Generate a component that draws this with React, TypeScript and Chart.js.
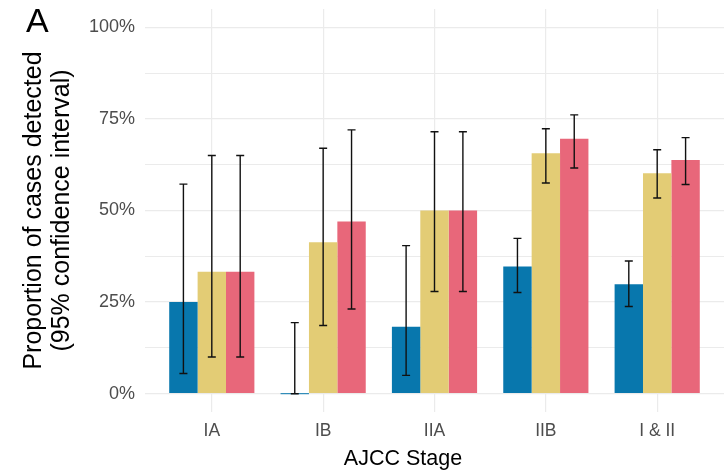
import React, { useEffect, useRef } from 'react';
import { Chart, registerables } from 'chart.js';

Chart.register(...registerables);

const stages = ['IA', 'IB', 'IIA', 'IIB', 'I & II'];
const seriesNames = ['Method 1', 'Method 2', 'Method 3'];
const seriesColors = ['#0877AD', '#E3CC75', '#E8677A'];

const blueValues = [25.0, 0.0, 18.3, 34.7, 29.9];
const blueLower = [5.5, 0.0, 5.0, 27.6, 23.8];
const blueUpper = [57.2, 19.4, 40.4, 42.4, 36.2];

const yellowValues = [33.3, 41.3, 50.0, 65.6, 60.2];
const yellowLower = [10.0, 18.6, 27.9, 57.5, 53.4];
const yellowUpper = [65.0, 67.0, 71.5, 72.3, 66.6];

const redValues = [33.3, 47.0, 50.0, 69.6, 63.8];
const redLower = [10.0, 23.1, 27.9, 61.6, 57.1];
const redUpper = [65.0, 72.0, 71.5, 76.1, 69.9];

const yTickValues = [0, 12.5, 25, 37.5, 50, 62.5, 75, 87.5, 100];

const yTitleLines = ['Proportion of cases detected', '(95% confidence interval)'];
const xTitle = 'AJCC Stage';
const panelLabel = 'A';

const FONT = "'Liberation Sans', Arial, sans-serif";

const allValues = [blueValues, yellowValues, redValues];
const allLower = [blueLower, yellowLower, redLower];
const allUpper = [blueUpper, yellowUpper, redUpper];

const errorBarPlugin = {
  id: 'errorBars',
  afterDatasetsDraw(chart: any) {
    const ctx = chart.ctx;
    const yScale = chart.scales.y;
    ctx.save();
    ctx.strokeStyle = '#111111';
    ctx.lineWidth = 1.4;
    chart.data.datasets.forEach((_ds: any, i: number) => {
      const meta = chart.getDatasetMeta(i);
      meta.data.forEach((el: any, j: number) => {
        const x = el.x;
        const lo = yScale.getPixelForValue(allLower[i][j]);
        const hi = yScale.getPixelForValue(allUpper[i][j]);
        const cap = 4;
        ctx.beginPath();
        ctx.moveTo(x, lo);
        ctx.lineTo(x, hi);
        ctx.moveTo(x - cap, lo);
        ctx.lineTo(x + cap, lo);
        ctx.moveTo(x - cap, hi);
        ctx.lineTo(x + cap, hi);
        ctx.stroke();
      });
    });
    ctx.restore();
  },
};

const titlesPlugin = {
  id: 'titles',
  afterDraw(chart: any) {
    const ctx = chart.ctx;
    const area = chart.chartArea;
    ctx.save();
    ctx.fillStyle = '#000000';
    ctx.font = `34px ${FONT}`;
    ctx.textAlign = 'left';
    ctx.textBaseline = 'alphabetic';
    ctx.fillText(panelLabel, 26, 32);

    ctx.font = `21.5px ${FONT}`;
    ctx.textAlign = 'center';
    ctx.textBaseline = 'middle';
    ctx.fillText(xTitle, 403, 459);

    const cy = (area.top + area.bottom) / 2;
    const xs = [34, 62];
    ctx.font = `25px ${FONT}`;
    yTitleLines.forEach((line, k) => {
      ctx.save();
      ctx.translate(xs[k], cy);
      ctx.rotate(-Math.PI / 2);
      ctx.fillText(line, 0, 0);
      ctx.restore();
    });
    ctx.restore();
  },
};

export default function App() {
  const canvasRef = useRef<HTMLCanvasElement | null>(null);

  useEffect(() => {
    if (!canvasRef.current) return;
    const datasets = allValues.map((vals, i) => ({
      label: seriesNames[i],
      data: vals.map((v, j) => ({ x: j + 1, y: v })),
      backgroundColor: seriesColors[i],
      borderWidth: 0,
      categoryPercentage: 0.765,
      barPercentage: 1.0,
      minBarLength: i === 0 ? 1 : 0,
    }));

    const chart = new Chart(canvasRef.current, {
      type: 'bar',
      data: { datasets },
      options: {
        animation: false,
        responsive: true,
        maintainAspectRatio: false,
        layout: { padding: { top: 9, left: 0, right: 0, bottom: 0 } },
        plugins: {
          legend: { display: false },
          tooltip: { enabled: false },
        },
        scales: {
          x: {
            type: 'linear',
            min: 0.4,
            max: 5.6,
            offset: false,
            afterBuildTicks: (scale: any) => {
              scale.ticks = stages.map((_s, i) => ({ value: i + 1 }));
            },
            afterFit: (scale: any) => {
              scale.height = 62;
              scale.paddingLeft = 0;
              scale.paddingRight = 0;
            },
            ticks: {
              autoSkip: false,
              maxRotation: 0,
              padding: 9,
              color: '#4D4D4D',
              font: { family: FONT, size: 17.5 },
              callback: (v: any) => stages[Math.round(Number(v)) - 1] ?? '',
            },
            grid: {
              offset: false,
              drawTicks: false,
              color: '#EBEBEB',
              lineWidth: 1.2,
            },
            border: { display: false },
          },
          y: {
            type: 'linear',
            min: -5,
            max: 105,
            afterBuildTicks: (scale: any) => {
              scale.ticks = yTickValues.map((v) => ({ value: v }));
            },
            afterFit: (scale: any) => {
              scale.width = 145;
              scale.paddingTop = 0;
              scale.paddingBottom = 0;
            },
            ticks: {
              padding: 10,
              color: '#4D4D4D',
              font: { family: FONT, size: 18 },
              callback: (v: any) => (Number(v) % 25 === 0 ? `${v}%` : ''),
            },
            grid: {
              drawTicks: false,
              color: '#EBEBEB',
              lineWidth: (c: any) => (c.tick && c.tick.value % 25 === 0 ? 1.3 : 1.0),
            },
            border: { display: false },
          },
        },
      },
      plugins: [errorBarPlugin, titlesPlugin],
    } as any);

    return () => chart.destroy();
  }, []);

  return (
    <div style={{ position: 'fixed', left: 0, top: 0, width: 724, height: 474, background: '#ffffff' }}>
      <canvas ref={canvasRef} />
    </div>
  );
}
